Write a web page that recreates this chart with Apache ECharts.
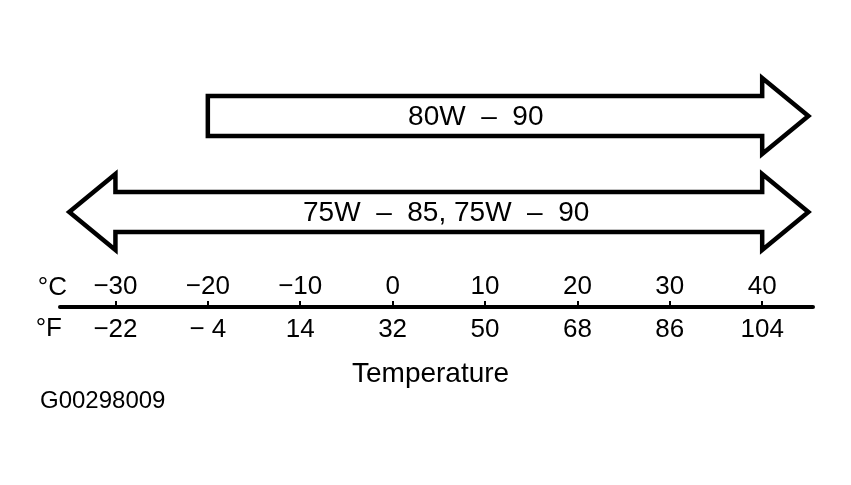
<!DOCTYPE html>
<html>
<head>
<meta charset="utf-8">
<script src="https://cdn.jsdelivr.net/npm/echarts@6/dist/echarts.min.js"></script>
<style>
html,body{margin:0;padding:0;background:#fff;}
#chart{width:851px;height:485px;}
</style>
</head>
<body>
<div id="chart"></div>
<script>
// ---- data ----
var celsiusTicks = [-30, -20, -10, 0, 10, 20, 30, 40];
var celsiusLabels = ['\u221230', '\u221220', '\u221210', '0', '10', '20', '30', '40'];
var fahrenheitLabels = ['\u221222', '\u2212 4', '14', '32', '50', '68', '86', '104'];

var arrowNames = ['80W  \u2013  90', '75W  \u2013  85, 75W  \u2013  90'];
var arrowStart = [-20, -35];      // left end (box edge or left tip), °C
var arrowLeftNotch = [null, -30]; // left head base, °C (null = no left head)
var arrowRightNotch = [40, 40];   // right head base, °C
var arrowEnd = [45, 45];          // right tip, °C
var arrowRow = [7.64, 3.8];       // vertical level
var arrowLabelAt = [9, 5.8];      // label centre, °C

var FONT = '"Liberation Sans", Arial, Helvetica, sans-serif';

var chart = echarts.init(document.getElementById('chart'));

var arrowData = arrowNames.map(function (n, i) {
  return [arrowStart[i], arrowEnd[i], arrowRow[i], arrowLabelAt[i]];
});

var option = {
  backgroundColor: '#ffffff',
  animation: false,
  title: [
    { text: 'Temperature', left: 352, top: 360,
      textStyle: { fontFamily: FONT, fontSize: 28, fontWeight: 'normal', color: '#000' }, padding: 0 },
    { text: 'G00298009', left: 40, top: 389,
      textStyle: { fontFamily: FONT, fontSize: 24, fontWeight: 'normal', color: '#000' }, padding: 0 }
  ],
  grid: { left: 60, right: 38, top: 57, bottom: 178, containLabel: false },
  xAxis: [
    {
      type: 'value', min: -36, max: 45.5, position: 'bottom',
      name: '\u00B0C', nameLocation: 'start', nameGap: -7,
      nameTextStyle: { fontFamily: FONT, fontSize: 26, color: '#000', verticalAlign: 'bottom', padding: [0, 0, 6, 0] },
      splitLine: { show: false },
      axisLine: { show: true, lineStyle: { color: '#000', width: 4 } },
      axisTick: { show: true, inside: true, length: 6, customValues: celsiusTicks, lineStyle: { color: '#000', width: 2 } },
      axisLabel: {
        show: true, inside: true, margin: 7, customValues: celsiusTicks,
        fontFamily: FONT, fontSize: 26, color: '#000',
        formatter: function (v) { var i = celsiusTicks.indexOf(v); return i >= 0 ? celsiusLabels[i] : ''; }
      }
    },
    {
      type: 'value', min: -36, max: 45.5, position: 'bottom',
      name: '\u00B0F', nameLocation: 'start', nameGap: -2,
      nameTextStyle: { fontFamily: FONT, fontSize: 26, color: '#000', verticalAlign: 'top', padding: [9, 0, 0, 0] },
      splitLine: { show: false },
      axisLine: { show: false },
      axisTick: { show: false },
      axisLabel: {
        show: true, margin: 10, customValues: celsiusTicks,
        fontFamily: FONT, fontSize: 26, color: '#000',
        formatter: function (v) { var i = celsiusTicks.indexOf(v); return i >= 0 ? fahrenheitLabels[i] : ''; }
      }
    }
  ],
  yAxis: { type: 'value', min: 0, max: 10, show: false },
  series: [{
    type: 'custom',
    xAxisIndex: 0,
    coordinateSystem: 'cartesian2d',
    data: arrowData,
    clip: false,
    renderItem: function (params, api) {
      var i = params.dataIndex;
      var yc = api.coord([0, api.value(2)])[1];
      var xs = api.coord([api.value(0), 0])[0];
      var xt = api.coord([api.value(1), 0])[0];
      var xnR = api.coord([arrowRightNotch[i], 0])[0];
      var xl = api.coord([api.value(3), 0])[0];
      var h = 20, H = 38;
      var pts;
      if (arrowLeftNotch[i] !== null) {
        var xnL = api.coord([arrowLeftNotch[i], 0])[0];
        pts = [[xs, yc], [xnL, yc - H], [xnL, yc - h], [xnR, yc - h], [xnR, yc - H], [xt, yc],
               [xnR, yc + H], [xnR, yc + h], [xnL, yc + h], [xnL, yc + H]];
      } else {
        pts = [[xs, yc - h], [xnR, yc - h], [xnR, yc - H], [xt, yc], [xnR, yc + H], [xnR, yc + h], [xs, yc + h]];
      }
      return {
        type: 'group',
        children: [
          { type: 'polygon', shape: { points: pts },
            style: { fill: '#fff', stroke: '#000', lineWidth: 4.5, lineJoin: 'miter' } },
          { type: 'text', x: xl, y: yc + 1,
            style: { text: arrowNames[i], fill: '#000', font: '28px ' + FONT, align: 'center', verticalAlign: 'middle' } }
        ]
      };
    }
  }]
};
chart.setOption(option);
</script>
</body>
</html>
